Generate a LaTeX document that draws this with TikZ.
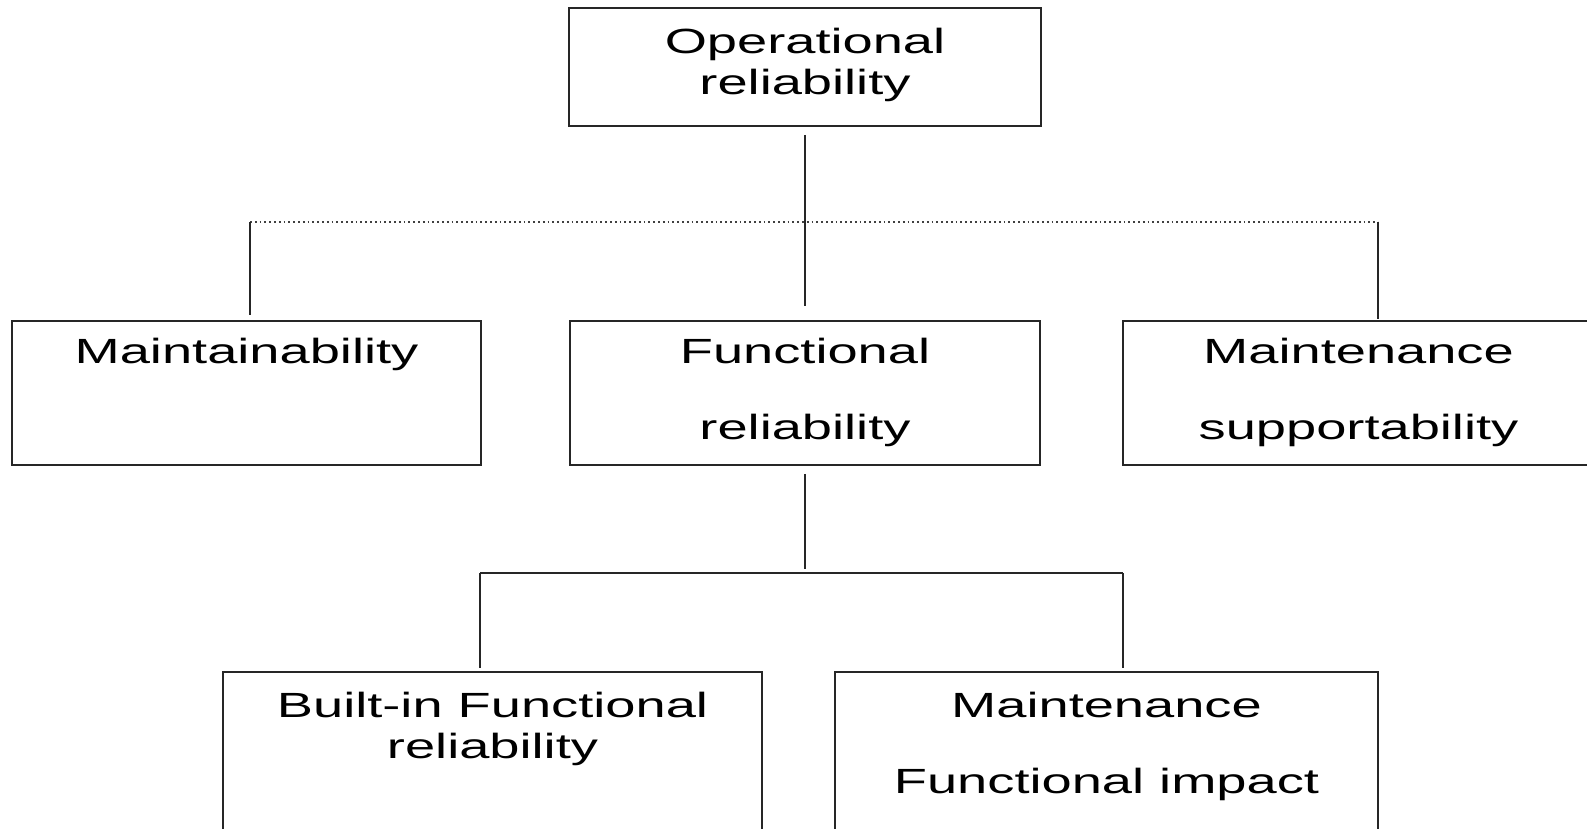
\documentclass[tikz,border=0pt]{standalone}
\usepackage{fontspec}
\setmainfont{Liberation Sans}[FakeStretch=1.55]
\begin{document}
\begin{tikzpicture}[x=1pt, y=-1pt,
    box/.style={draw=black!85, line width=1.8pt, inner sep=0pt},
    lbl/.style={inner sep=0pt, anchor=base, font=\fontsize{35}{41}\selectfont},
    link/.style={draw=black!85, line width=1.8pt},
    dotline/.style={draw=black!75, line width=1.8pt, dash pattern=on 1.8pt off 3pt}]
  \useasboundingbox (0,0) rectangle (1587,828);
  \clip (0,0) rectangle (1587,828);
  % boxes
  \node[box, minimum width=472pt, minimum height=118pt] (oprel) at (805,67) {};
  \node[box, minimum width=469pt, minimum height=144pt] (maint) at (246.5,393) {};
  \node[box, minimum width=470pt, minimum height=144pt] (funcrel) at (805,393) {};
  \node[box, minimum width=471pt, minimum height=144pt] (support) at (1358.5,393) {};
  \node[box, minimum width=539pt, minimum height=208pt] (builtin) at (492.5,776) {};
  \node[box, minimum width=543pt, minimum height=208pt] (mfimpact) at (1106.5,776) {};
  % texts
  \node[lbl] (oprel-t) at (805,53) {\begin{tabular}[t]{@{}c@{}}Operational\\reliability\end{tabular}};
  \node[lbl] (maint-t) at (246.5,363) {Maintainability};
  \node[lbl] (funcrel-t) at (805,363) {\begin{tabular}[t]{@{}c@{}}Functional\\[35pt]reliability\end{tabular}};
  \node[lbl] (support-t) at (1358.5,363) {\begin{tabular}[t]{@{}c@{}}Maintenance\\[35pt]supportability\end{tabular}};
  \node[lbl] (builtin-t) at (492.5,717) {\begin{tabular}[t]{@{}c@{}}Built-in Functional\\reliability\end{tabular}};
  \node[lbl] (mfimpact-t) at (1106.5,717) {\begin{tabular}[t]{@{}c@{}}Maintenance\\[35pt]Functional impact\end{tabular}};
  % connectors
  \coordinate (dl) at (250,222);
  \coordinate (dr) at (1378,222);
  \coordinate (bl) at (480,573);
  \coordinate (br) at (1123,573);
  \draw[dotline] (dl) -- (dr);
  \draw[link, shorten <=8pt, shorten >=14pt] (oprel.south) -- (funcrel.north);
  \draw[link, shorten >=5pt] (dl) -- (dl |- maint.north);
  \draw[link, shorten >=1pt] (dr) -- (dr |- support.north);
  \draw[link, shorten <=8pt, shorten >=4pt] (funcrel.south) -- (funcrel.south |- bl);
  \draw[link] (bl) -- (br);
  \draw[link, shorten >=3pt] (bl) -- (bl |- builtin.north);
  \draw[link, shorten >=3pt] (br) -- (br |- mfimpact.north);
\end{tikzpicture}
\end{document}
